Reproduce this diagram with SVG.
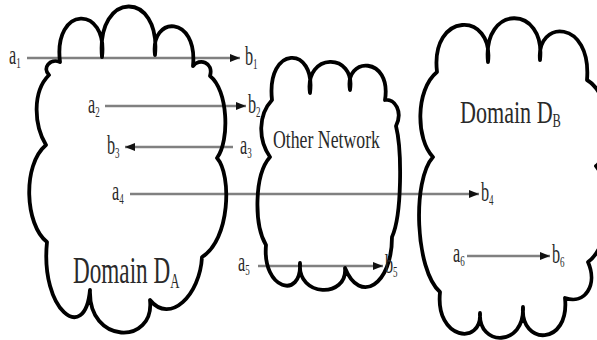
<svg xmlns="http://www.w3.org/2000/svg" width="597" height="340" viewBox="0 0 597 340">
<style>
.cloud{fill:none;stroke:#000;stroke-width:3.8;stroke-linejoin:round}
.conn{stroke:#808080;stroke-width:2.5;fill:none;marker-end:url(#ah)}
.lbl{font-family:"Liberation Serif","Times New Roman",serif;font-size:27px;fill:#2a2a2a}
.sub{font-size:15px}
.title{font-family:"Liberation Serif","Times New Roman",serif;fill:#2a2a2a}
</style>
<defs>
<marker id="ah" markerUnits="userSpaceOnUse" markerWidth="10" markerHeight="8" refX="10" refY="4" orient="auto">
<path d="M0,0 L10,4 L0,8 z" fill="#111"/>
</marker>
</defs>
<rect width="597" height="340" fill="#fff"/>
<g id="connectors">
<line class="conn" x1="27" y1="58" x2="240" y2="58"/>
<line class="conn" x1="105" y1="106" x2="246" y2="106"/>
<line class="conn" x1="233" y1="147" x2="125" y2="147"/>
<line class="conn" x1="130" y1="194" x2="479" y2="194"/>
<line class="conn" x1="258" y1="266" x2="383" y2="266"/>
<line class="conn" x1="467" y1="256" x2="550" y2="256"/>
</g>
<g id="domainA">
<path class="cloud" d="M60,62 C53,5 108,5 102,57 C96,-10 161,-10 155,55 C150,15 198,15 193,66 C199,58 214,62 210,76 C228,90 230,140 217,158 C232,175 230,240 202,257 C200,295 170,325 150,300 C155,345 88,345 90,290 C85,345 40,310 47,242 C25,225 22,165 46,145 C34,125 32,92 49,75 C42,68 50,58 60,62 Z"/>
<text class="title" font-size="38" transform="translate(73,283) scale(0.61,1)">Domain D<tspan font-size="21" dy="5">A</tspan></text>
</g>
<g id="otherNetwork">
<path class="cloud" d="M272,100 C266,45 316,45 310,93 C304,52 356,52 350,90 C344,56 392,56 385,100 C395,98 403,112 396,126 C402,150 402,215 392,237 C392,285 360,305 345,268 C348,298 297,298 300,263 C302,300 262,290 266,245 C254,225 254,175 270,157 C258,140 258,115 272,100 Z"/>
<text class="title" font-size="25" transform="translate(273,148) scale(0.71,1)">Other Network</text>
</g>
<g id="domainB">
<path class="cloud" d="M437,72 C430,11 494,11 488,62 C482,4 546,4 540,60 C536,19 592,19 587,80 C612,95 615,150 596,166 C612,185 612,245 588,262 C598,285 585,305 565,298 C570,346 520,346 523,307 C525,347 478,347 480,313 C482,346 435,340 440,292 C415,270 412,180 433,157 C416,140 415,90 437,72 Z"/>
<text class="title" font-size="32" transform="translate(460,123) scale(0.69,1)">Domain D<tspan font-size="18" dy="4">B</tspan></text>
</g>
<g id="labels">
<text class="lbl" transform="translate(9,64) scale(0.6,1)">a<tspan class="sub" dy="4">1</tspan></text>
<text class="lbl" transform="translate(245,65) scale(0.6,1)">b<tspan class="sub" dy="4">1</tspan></text>
<text class="lbl" transform="translate(88,113) scale(0.6,1)">a<tspan class="sub" dy="4">2</tspan></text>
<text class="lbl" transform="translate(248,113) scale(0.6,1)">b<tspan class="sub" dy="4">2</tspan></text>
<text class="lbl" transform="translate(107,154) scale(0.6,1)">b<tspan class="sub" dy="4">3</tspan></text>
<text class="lbl" transform="translate(240,154) scale(0.6,1)">a<tspan class="sub" dy="4">3</tspan></text>
<text class="lbl" transform="translate(112,200) scale(0.6,1)">a<tspan class="sub" dy="4">4</tspan></text>
<text class="lbl" transform="translate(481,201) scale(0.6,1)">b<tspan class="sub" dy="4">4</tspan></text>
<text class="lbl" transform="translate(238,271) scale(0.6,1)">a<tspan class="sub" dy="4">5</tspan></text>
<text class="lbl" transform="translate(385,273) scale(0.6,1)">b<tspan class="sub" dy="4">5</tspan></text>
<text class="lbl" transform="translate(453,262) scale(0.6,1)">a<tspan class="sub" dy="4">6</tspan></text>
<text class="lbl" transform="translate(552,263) scale(0.6,1)">b<tspan class="sub" dy="4">6</tspan></text>
</g>
</svg>
